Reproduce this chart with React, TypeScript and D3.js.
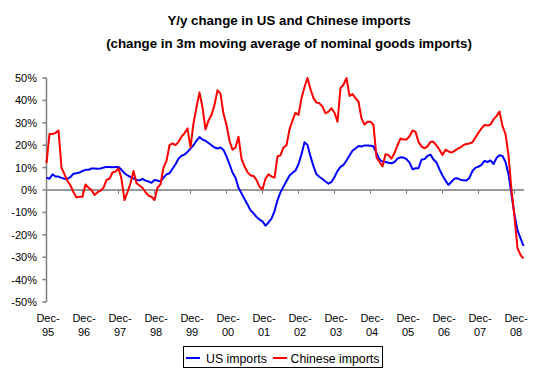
import React from "react";
import * as d3 from "d3";

// Monthly data, Dec-95 .. Mar-09 (index 0 = Dec-95), y/y % change
const usImports: number[] = [
  5.5, 5, 7, 6, 6, 5.4, 5, 5, 5.8, 7.3,
  7.5, 7.8, 8.5, 9, 9, 9.6, 9.6, 9.5, 9.6, 10,
  10.3, 10.3, 10.2, 10.3, 10.3, 9, 7.5, 6.5, 5.8, 5.2,
  4.5, 4.3, 5, 4.2, 3.8, 3.2, 4.5, 4.2, 3.8, 5.5,
  7, 7.5, 9.5, 11.5, 14, 15.3, 15.8, 17, 18.5, 20,
  22, 23.6, 22.5, 22, 21, 20, 19, 18.5, 19, 17.9,
  15, 11.5, 7.8, 5.5, 1, -1.5, -4, -6.5, -9, -10.4,
  -12, -13.2, -14, -15.9, -14.5, -12.8, -9.5, -4.5, -1, 1.5,
  4, 6.5, 7.7, 8.7, 11.5, 16, 21.3, 20.1, 15, 10.5,
  7, 5.8, 4.9, 3.8, 2.8, 3.6, 5.8, 8.5, 10.3, 11.2,
  13.2, 15.4, 17.5, 18.5, 19.6, 19.4, 19.9, 19.9, 19.8, 19.4,
  16.5, 13.6, 12.7, 12.5, 12.2, 11.9, 12.5, 14, 14.6, 14.5,
  13.8, 12.2, 9.3, 9.7, 9.7, 13.5, 13.8, 15.2, 15.8, 13.6,
  12.3, 9.2, 6.5, 4.2, 2.3, 3.7, 5.1, 5.2, 4.6, 4.3,
  4.2, 5.5, 8.5, 10, 10.4, 11.2, 13, 12.5, 13.2, 11.6,
  14.3, 15.5, 15.2, 12.5, 7, -2, -11, -18, -21.5, -25,
];

const chineseImports: number[] = [
  12, 25, 25, 25.5, 26.5, 10, 7, 4, 2, -1,
  -3.3, -3, -3, 2.5, 1, 0, -2.2, -1, -0.3, 1,
  4.5, 5, 7.8, 8.2, 9.7, 5, -4.5, -1, 3, 8.5,
  3, 2, 1, -1, -2.5, -3, -4.5, 1, 2.5, 10,
  13, 20, 20.8, 20, 21.5, 23.8, 25.3, 27.5, 19, 29.8,
  37, 43.5, 37, 27, 31, 33.5, 38, 44.5, 43, 34,
  29, 22, 18, 19, 23.8, 14, 10.5, 8, 6.5, 6.3,
  4.5, 1.5, 0.3, 5, 7, 6, 5.5, 15, 15.5, 19,
  20, 27, 31, 34.5, 33.5, 41, 46, 50, 45, 41,
  39, 38.7, 37.2, 34.2, 35, 36.5, 34.5, 30.5, 45.5, 47,
  50, 42, 42.8, 41, 39.4, 32, 29.2, 30.5, 30.5, 29,
  14.5, 12.5, 10.5, 16, 15.5, 14, 16.5, 20, 23, 22.5,
  22.5, 24, 26.5, 26, 21.5, 19.5, 18.6, 19.5, 21.5, 21.5,
  19.8, 18, 15.6, 18, 17.2, 16.7, 17.5, 18.4, 19, 20.1,
  20.5, 20.8, 21.3, 23.5, 25.6, 27.5, 29, 28.8, 29.2, 31.5,
  33, 35, 28.5, 25, 15.5, 0, -12, -26, -29, -30.5,
];

const yearLabels: string[] = ["95", "96", "97", "98", "99", "00", "01", "02", "03", "04", "05", "06", "07", "08"];
const yTicks: number[] = [50, 40, 30, 20, 10, 0, -10, -20, -30, -40, -50];
const titleLines: string[] = [
  "Y/y change in US and Chinese imports",
  "(change in 3m moving average of nominal goods imports)",
];
const seriesNames: string[] = ["US imports", "Chinese imports"];
const seriesColors: string[] = ["#0000FF", "#FF0000"];

const FONT = "'Liberation Sans', Arial, Helvetica, sans-serif";

export default function App() {
  const W = 547;
  const H = 374;
  const left = 46.5;
  const right = 524;
  const x = d3.scaleLinear().domain([0, (right - left) / 3]).range([left, right]);
  const y = d3.scaleLinear().domain([-50, 50]).range([302, 78]);

  const line = d3
    .line<number>()
    .x((_, i) => x(i))
    .y((d) => y(d));

  const series = [usImports, chineseImports];

  return (
    <svg
      width={W}
      height={H}
      style={{ position: "absolute", left: 0, top: 0, background: "#fff" }}
      fontFamily={FONT}
    >
      <rect x={0} y={0} width={W} height={H} fill="#fff" />
      {titleLines.map((t, i) => (
        <text key={t} x={289} y={25 + i * 23} textAnchor="middle" fontWeight="bold" fontSize={13.3} fill="#000">
          {t}
        </text>
      ))}

      {/* y axis */}
      <line x1={left} x2={left} y1={y(50)} y2={y(-50)} stroke="#808080" strokeWidth={1.5} />
      {yTicks.map((v) => (
        <g key={v}>
          <line x1={left - 4} x2={left} y1={y(v)} y2={y(v)} stroke="#808080" strokeWidth={1.5} />
          <text x={37} y={y(v) + 4} textAnchor="end" fontSize={11} fill="#000">
            {v + "%"}
          </text>
        </g>
      ))}

      {/* x axis (zero line) */}
      <line x1={left} x2={right} y1={y(0)} y2={y(0)} stroke="#999999" strokeWidth={2} />
      {yearLabels.map((lab, k) => {
        const tx = x(k * 12);
        return (
          <g key={lab}>
            {k > 0 && <line x1={tx} x2={tx} y1={y(0)} y2={y(0) + 4} stroke="#808080" strokeWidth={1} />}
            <text x={tx + 1.5} y={322} textAnchor="middle" fontSize={11} fill="#000">
              Dec-
            </text>
            <text x={tx + 1.5} y={336} textAnchor="middle" fontSize={11} fill="#000">
              {lab}
            </text>
          </g>
        );
      })}

      {/* series */}
      {series.map((s, i) => (
        <path key={i} d={line(s) || ""} fill="none" stroke={seriesColors[i]} strokeWidth={2} strokeLinejoin="round" />
      ))}

      {/* legend */}
      <rect x={183.5} y={346.5} width={199} height={21} fill="#fff" stroke="#000" strokeWidth={1} />
      <line x1={186} x2={200} y1={358} y2={358} stroke={seriesColors[0]} strokeWidth={2} />
      <text x={206} y={362.5} fontSize={12.3} fill="#000">{seriesNames[0]}</text>
      <line x1={273} x2={287} y1={358} y2={358} stroke={seriesColors[1]} strokeWidth={2} />
      <text x={290.5} y={362.5} fontSize={12.3} fill="#000">{seriesNames[1]}</text>
    </svg>
  );
}
